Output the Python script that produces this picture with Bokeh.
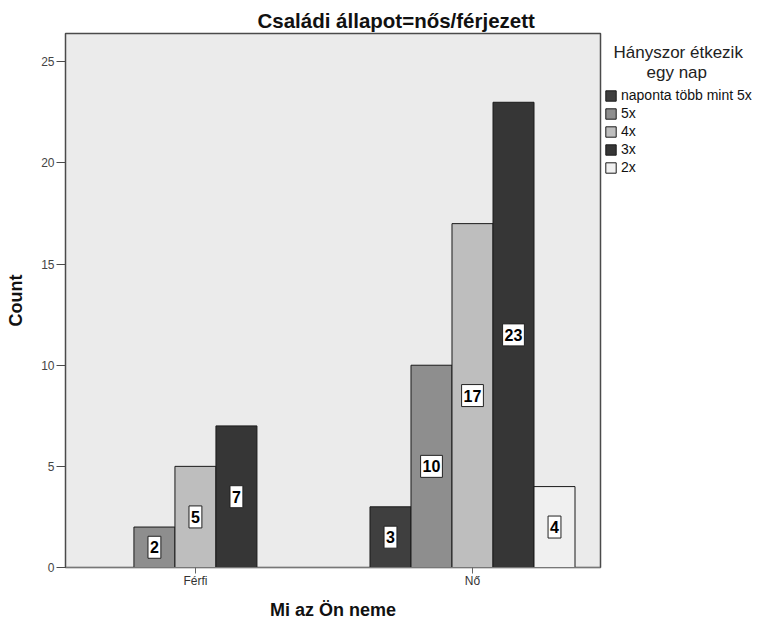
from bokeh.plotting import figure
from bokeh.models import Range1d, FixedTicker, Legend, LegendItem, ColumnDataSource, Title
from bokeh.embed import file_html
from bokeh.resources import INLINE
from bokeh.core.properties import value

# ---- data ----
groups = ["Férfi", "Nő"]
series = ["naponta több mint 5x", "5x", "4x", "3x", "2x"]
naponta_counts = [0, 3]
x5_counts = [2, 10]
x4_counts = [5, 17]
x3_counts = [7, 23]
x2_counts = [0, 4]
colors = ["#3f3f3f", "#8e8e8e", "#bebebe", "#363636", "#f0f0f0"]
y_ticks = [0, 5, 10, 15, 20, 25]

all_counts = [naponta_counts, x5_counts, x4_counts, x3_counts, x2_counts]

bar_w = 0.148
NB = "\u00a0"

p = figure(frame_width=535, frame_height=534, output_backend="svg", toolbar_location=None,
           x_range=Range1d(-0.469, 1.462), y_range=Range1d(0, 26.4),
           min_border_left=65, min_border_top=33, min_border_bottom=60,
           min_border_right=155)

p.border_fill_color = "white"
p.outline_line_color = "#4a4a4a"
p.outline_line_width = 1.5
p.xgrid.visible = False
p.ygrid.visible = False
p.background_fill_color = "#ebebeb"

renderers = []
lab_x, lab_y, lab_t = [], [], []
for i, (name, vals, col) in enumerate(zip(series, all_counts, colors)):
    xs, tops = [], []
    for gi, v in enumerate(vals):
        if v > 0:
            xs.append(gi + (i - 2) * bar_w)
            tops.append(v)
            lab_x.append(gi + (i - 2) * bar_w)
            lab_y.append(v / 2)
            lab_t.append(str(v))
    src = ColumnDataSource(dict(x=xs, top=tops))
    r = p.vbar(x="x", top="top", width=bar_w, bottom=0, source=src,
               fill_color=col, line_color="#1a1a1a", line_width=1)
    renderers.append(r)

lsrc = ColumnDataSource(dict(x=lab_x, y=lab_y, t=lab_t))
p.text(x="x", y="y", text="t", source=lsrc, text_align="center", text_baseline="middle",
       text_font=value("Liberation Sans"), text_font_style="bold",
       text_font_size="16px", text_color="black",
       background_fill_color="white", border_line_color="#222222", border_line_width=1,
       padding=dict(left=2, right=2, top=5, bottom=5))

# axes
p.yaxis.ticker = FixedTicker(ticks=y_ticks)
p.yaxis.minor_tick_line_color = None
p.yaxis.major_tick_out = 9
p.yaxis.major_tick_in = 0
p.yaxis.major_label_standoff = 2
p.yaxis.major_label_text_font = "Liberation Sans"
p.yaxis.major_label_text_font_size = "12px"
p.yaxis.major_label_text_color = "#444444"
p.yaxis.axis_line_color = "#4a4a4a"
p.yaxis.major_tick_line_color = "#4a4a4a"
p.yaxis.axis_label = "Count"
p.yaxis.axis_label_text_font = "Liberation Sans"
p.yaxis.axis_label_text_font_style = "bold"
p.yaxis.axis_label_text_font_size = "18px"
p.yaxis.axis_label_text_color = "#111111"
p.yaxis.axis_label_standoff = 12

p.xaxis.ticker = FixedTicker(ticks=[0, 1])
p.xaxis.major_label_overrides = {0: groups[0], 1: groups[1]}
p.xaxis.minor_tick_line_color = None
p.xaxis.major_tick_out = 6
p.xaxis.major_tick_in = 0
p.xaxis.major_label_standoff = 0
p.xaxis.major_label_text_font = "Liberation Sans"
p.xaxis.major_label_text_font_size = "12px"
p.xaxis.major_label_text_color = "#333333"
p.xaxis.axis_line_color = "#777777"
p.xaxis.major_tick_line_color = "#666666"
p.xaxis.axis_label = "Mi az Ön neme"
p.xaxis.axis_label_text_font = "Liberation Sans"
p.xaxis.axis_label_text_font_style = "bold"
p.xaxis.axis_label_text_font_size = "18px"
p.xaxis.axis_label_text_color = "#111111"
p.xaxis.axis_label_standoff = 9

# title
t = Title(text="Családi állapot=nős/férjezett", align="left", offset=192,
          text_font="Liberation Sans", text_font_style="bold", text_font_size="20.5px",
          text_color="#111111", standoff=4)
p.add_layout(t, "above")

# legend
items = [LegendItem(label=s, renderers=[r]) for s, r in zip(series, renderers)]
leg_title = NB * 2 + "Hányszor étkezik\n" + NB * 9 + "egy nap"
leg = Legend(items=items, location=(4, 392), title=leg_title,
             title_text_font="Liberation Sans", title_text_font_size="17px",
             title_text_font_style="normal", title_text_color="#222222",
             title_text_line_height=0.88, title_standoff=4,
             label_text_font="Liberation Sans", label_text_font_size="14px",
             label_text_color="#111111", label_height=13, label_standoff=4,
             glyph_width=13, glyph_height=13, spacing=2, padding=8, margin=0,
             border_line_color=None, background_fill_alpha=0)
p.add_layout(leg, "right")

open("out.html", "w").write(file_html(p, INLINE))
